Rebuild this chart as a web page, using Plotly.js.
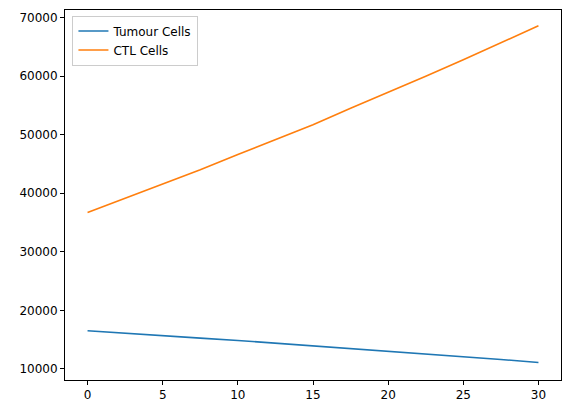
<!DOCTYPE html>
<html><head><script src="https://cdn.plot.ly/plotly-3.0.1.min.js"></script></head>
<body style="margin:0">
<div id="c" style="width:569px;height:413px"></div>
<script>
const days = [0, 2.5, 5, 7.5, 10, 12.5, 15, 17.5, 20, 22.5, 25, 27.5, 30];
const tumour = [16500, 16050, 15650, 15250, 14850, 14400, 13950, 13500, 13000, 12550, 12050, 11600, 11100];
const ctl = [36700, 39100, 41500, 44000, 46600, 49100, 51700, 54500, 57200, 60000, 62800, 65700, 68600];
const ax = {showgrid:false, zeroline:false, showline:true, mirror:true, linecolor:'#000', linewidth:1,
  ticks:'outside', ticklen:4, tickcolor:'#000', tickfont:{size:12, color:'#000'}};
Plotly.newPlot('c', [
  {x:days, y:tumour, mode:'lines', name:'Tumour Cells', line:{color:'#1f77b4', width:1.6}},
  {x:days, y:ctl, mode:'lines', name:'CTL Cells', line:{color:'#ff7f0e', width:1.6}}
], {
  width:569, height:413, margin:{l:65, r:8, t:10, b:33},
  font:{family:'DejaVu Sans', color:'#000'},
  plot_bgcolor:'#fff', paper_bgcolor:'#fff',
  xaxis:Object.assign({}, ax, {range:[-1.5, 31.5], tickvals:[0,5,10,15,20,25,30]}),
  yaxis:Object.assign({}, ax, {range:[8100, 71300], tickvals:[10000,20000,30000,40000,50000,60000,70000], tickformat:'d'}),
  legend:{x:0.015, y:0.985, xanchor:'left', yanchor:'top', bordercolor:'#ccc', borderwidth:1, bgcolor:'#fff', font:{size:12}},
  showlegend:true
}, {displayModeBar:false});
</script></body></html>
